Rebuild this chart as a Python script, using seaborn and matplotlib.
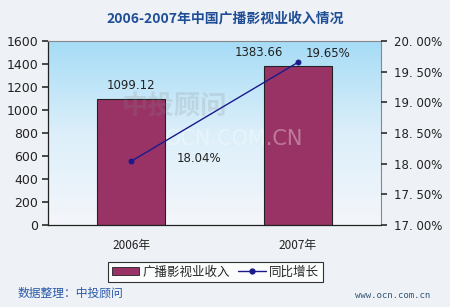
import numpy as np
import pandas as pd
import matplotlib
matplotlib.use("Agg")
import matplotlib.pyplot as plt
import seaborn as sns
from matplotlib.patches import Patch
from matplotlib.lines import Line2D
from matplotlib.colors import LinearSegmentedColormap

years = ["2006年", "2007年"]
revenue = [1099.12, 1383.66]
growth = [18.04, 19.65]
revenue_labels = ["1099.12", "1383.66"]
growth_labels = ["18.04%", "19.65%"]
left_ticks = [0, 200, 400, 600, 800, 1000, 1200, 1400, 1600]
right_ticks = [17.0, 17.5, 18.0, 18.5, 19.0, 19.5, 20.0]
right_tick_labels = ["17. 00%", "17. 50%", "18. 00%", "18. 50%", "19. 00%", "19. 50%", "20. 00%"]

sns.set_theme(style="white")
plt.rcParams["font.family"] = ["Noto Sans CJK SC", "DejaVu Sans"]

fig = plt.figure(figsize=(4.5, 3.07), dpi=100)
fig.patch.set_facecolor("#eef1f5")

ax = fig.add_axes([48/450, 1-225/307, 333/450, 184/307])
ax.set_facecolor("none")

# gradient background of plot area
grad = np.linspace(0, 1, 256).reshape(-1, 1)
cmap = LinearSegmentedColormap.from_list("bg", ["#f4f6fa", "#dceffa", "#a6dcf6"])
ax.imshow(grad, extent=[0, 1, 0, 1], transform=ax.transAxes, aspect="auto",
          cmap=cmap, origin="lower", zorder=0)

df = pd.DataFrame({"year": years, "revenue": revenue, "growth": growth})
sns.barplot(data=df, x="year", y="revenue", ax=ax, color="#993366", width=0.41,
            edgecolor="#222222", linewidth=0.8, saturation=1, zorder=2)
ax.set_xlim(-0.5, 1.5)
ax.set_ylim(0, 1600)
ax.set_yticks(left_ticks)
ax.set_yticklabels([str(t) for t in left_ticks], fontsize=9, color="#222222", family="DejaVu Sans")
ax.set_xlabel("")
ax.set_ylabel("")
ax.tick_params(axis="x", length=0, labelsize=8.5, colors="#222222", pad=10)
ax.set_xticks([-0.5, 0.5, 1.5], minor=True)
ax.tick_params(axis="x", which="minor", length=3, direction="in", color="#333333")
ax.tick_params(axis="y", length=4, direction="out", color="#333333", left=True, pad=3)

for s in ["left", "bottom"]:
    ax.spines[s].set_color("#222222")
    ax.spines[s].set_linewidth(0.9)
for s in ["top", "right"]:
    ax.spines[s].set_color("#888888")
    ax.spines[s].set_linewidth(0.8)

# watermark
ax.text(0.38, 0.64, "中投顾问", transform=ax.transAxes, fontsize=19, color="#888888",
        alpha=0.2, ha="center", va="center", zorder=3, fontweight="bold")
ax.text(0.56, 0.465, "OCN.COM.CN", transform=ax.transAxes, fontsize=15, color="#ffffff",
        alpha=0.35, ha="center", va="center", zorder=3, family="DejaVu Sans")

ax2 = ax.twinx()
sns.pointplot(data=df, x="year", y="growth", ax=ax2, color="#1a1a8c", markers="o",
              markersize=3.5, linewidth=1.0, zorder=4)
ax2.set_xlim(-0.5, 1.5)
ax2.set_ylim(17, 20)
ax2.set_yticks(right_ticks)
ax2.set_yticklabels(right_tick_labels, fontsize=8.5, color="#222222", family="DejaVu Sans")
ax2.set_ylabel("")
ax2.set_xlabel("")
ax2.tick_params(axis="y", length=4, direction="out", color="#333333", right=True, pad=5)
for s in ax2.spines.values():
    s.set_visible(False)

# data labels
offsets_rev = [(0, 5), (-28, 5)]
for i, (v, lab) in enumerate(zip(revenue, revenue_labels)):
    ax.annotate(lab, (i, v), xytext=offsets_rev[i], textcoords="offset points",
                ha="center", va="bottom", fontsize=8.5, color="#222222",
                family="DejaVu Sans", zorder=5)
offsets_g = [(33, -3), (6, 2)]
for i, (v, lab) in enumerate(zip(growth, growth_labels)):
    ax2.annotate(lab, (i, v), xytext=offsets_g[i], textcoords="offset points",
                 ha="left", va="bottom", fontsize=8.5, color="#222222",
                 family="DejaVu Sans", zorder=5)

# title
fig.text(0.5, 1-18/307, "2006-2007年中国广播影视业收入情况", ha="center", va="center",
         fontsize=10, fontweight="bold", color="#1f4e96")

# legend
handles = [Patch(facecolor="#993366", edgecolor="#222222", linewidth=0.6),
           Line2D([0], [0], color="#1a1a8c", marker="o", markersize=3.5, linewidth=1.0)]
leg = fig.legend(handles, ["广播影视业收入", "同比增长"], loc="center", ncol=2,
                 bbox_to_anchor=(215.5/450, 1-272/307), frameon=True, fontsize=9,
                 handlelength=2.2, handleheight=0.55, handletextpad=0.3, columnspacing=0.6,
                 borderpad=0.3, fancybox=False)
leg.get_frame().set_edgecolor("#000000")
leg.get_frame().set_facecolor("#ffffff")
leg.get_frame().set_linewidth(0.8)

# footer
fig.text(18/450, 1-293/307, "数据整理：中投顾问", ha="left", va="center", fontsize=8.5,
         color="#2a5aa8")
fig.text(430/450, 1-295/307, "www.ocn.com.cn", ha="right", va="center", fontsize=6.5,
         color="#335577", family="DejaVu Sans Mono")

fig.savefig("out.png", dpi=100, facecolor=fig.get_facecolor())
